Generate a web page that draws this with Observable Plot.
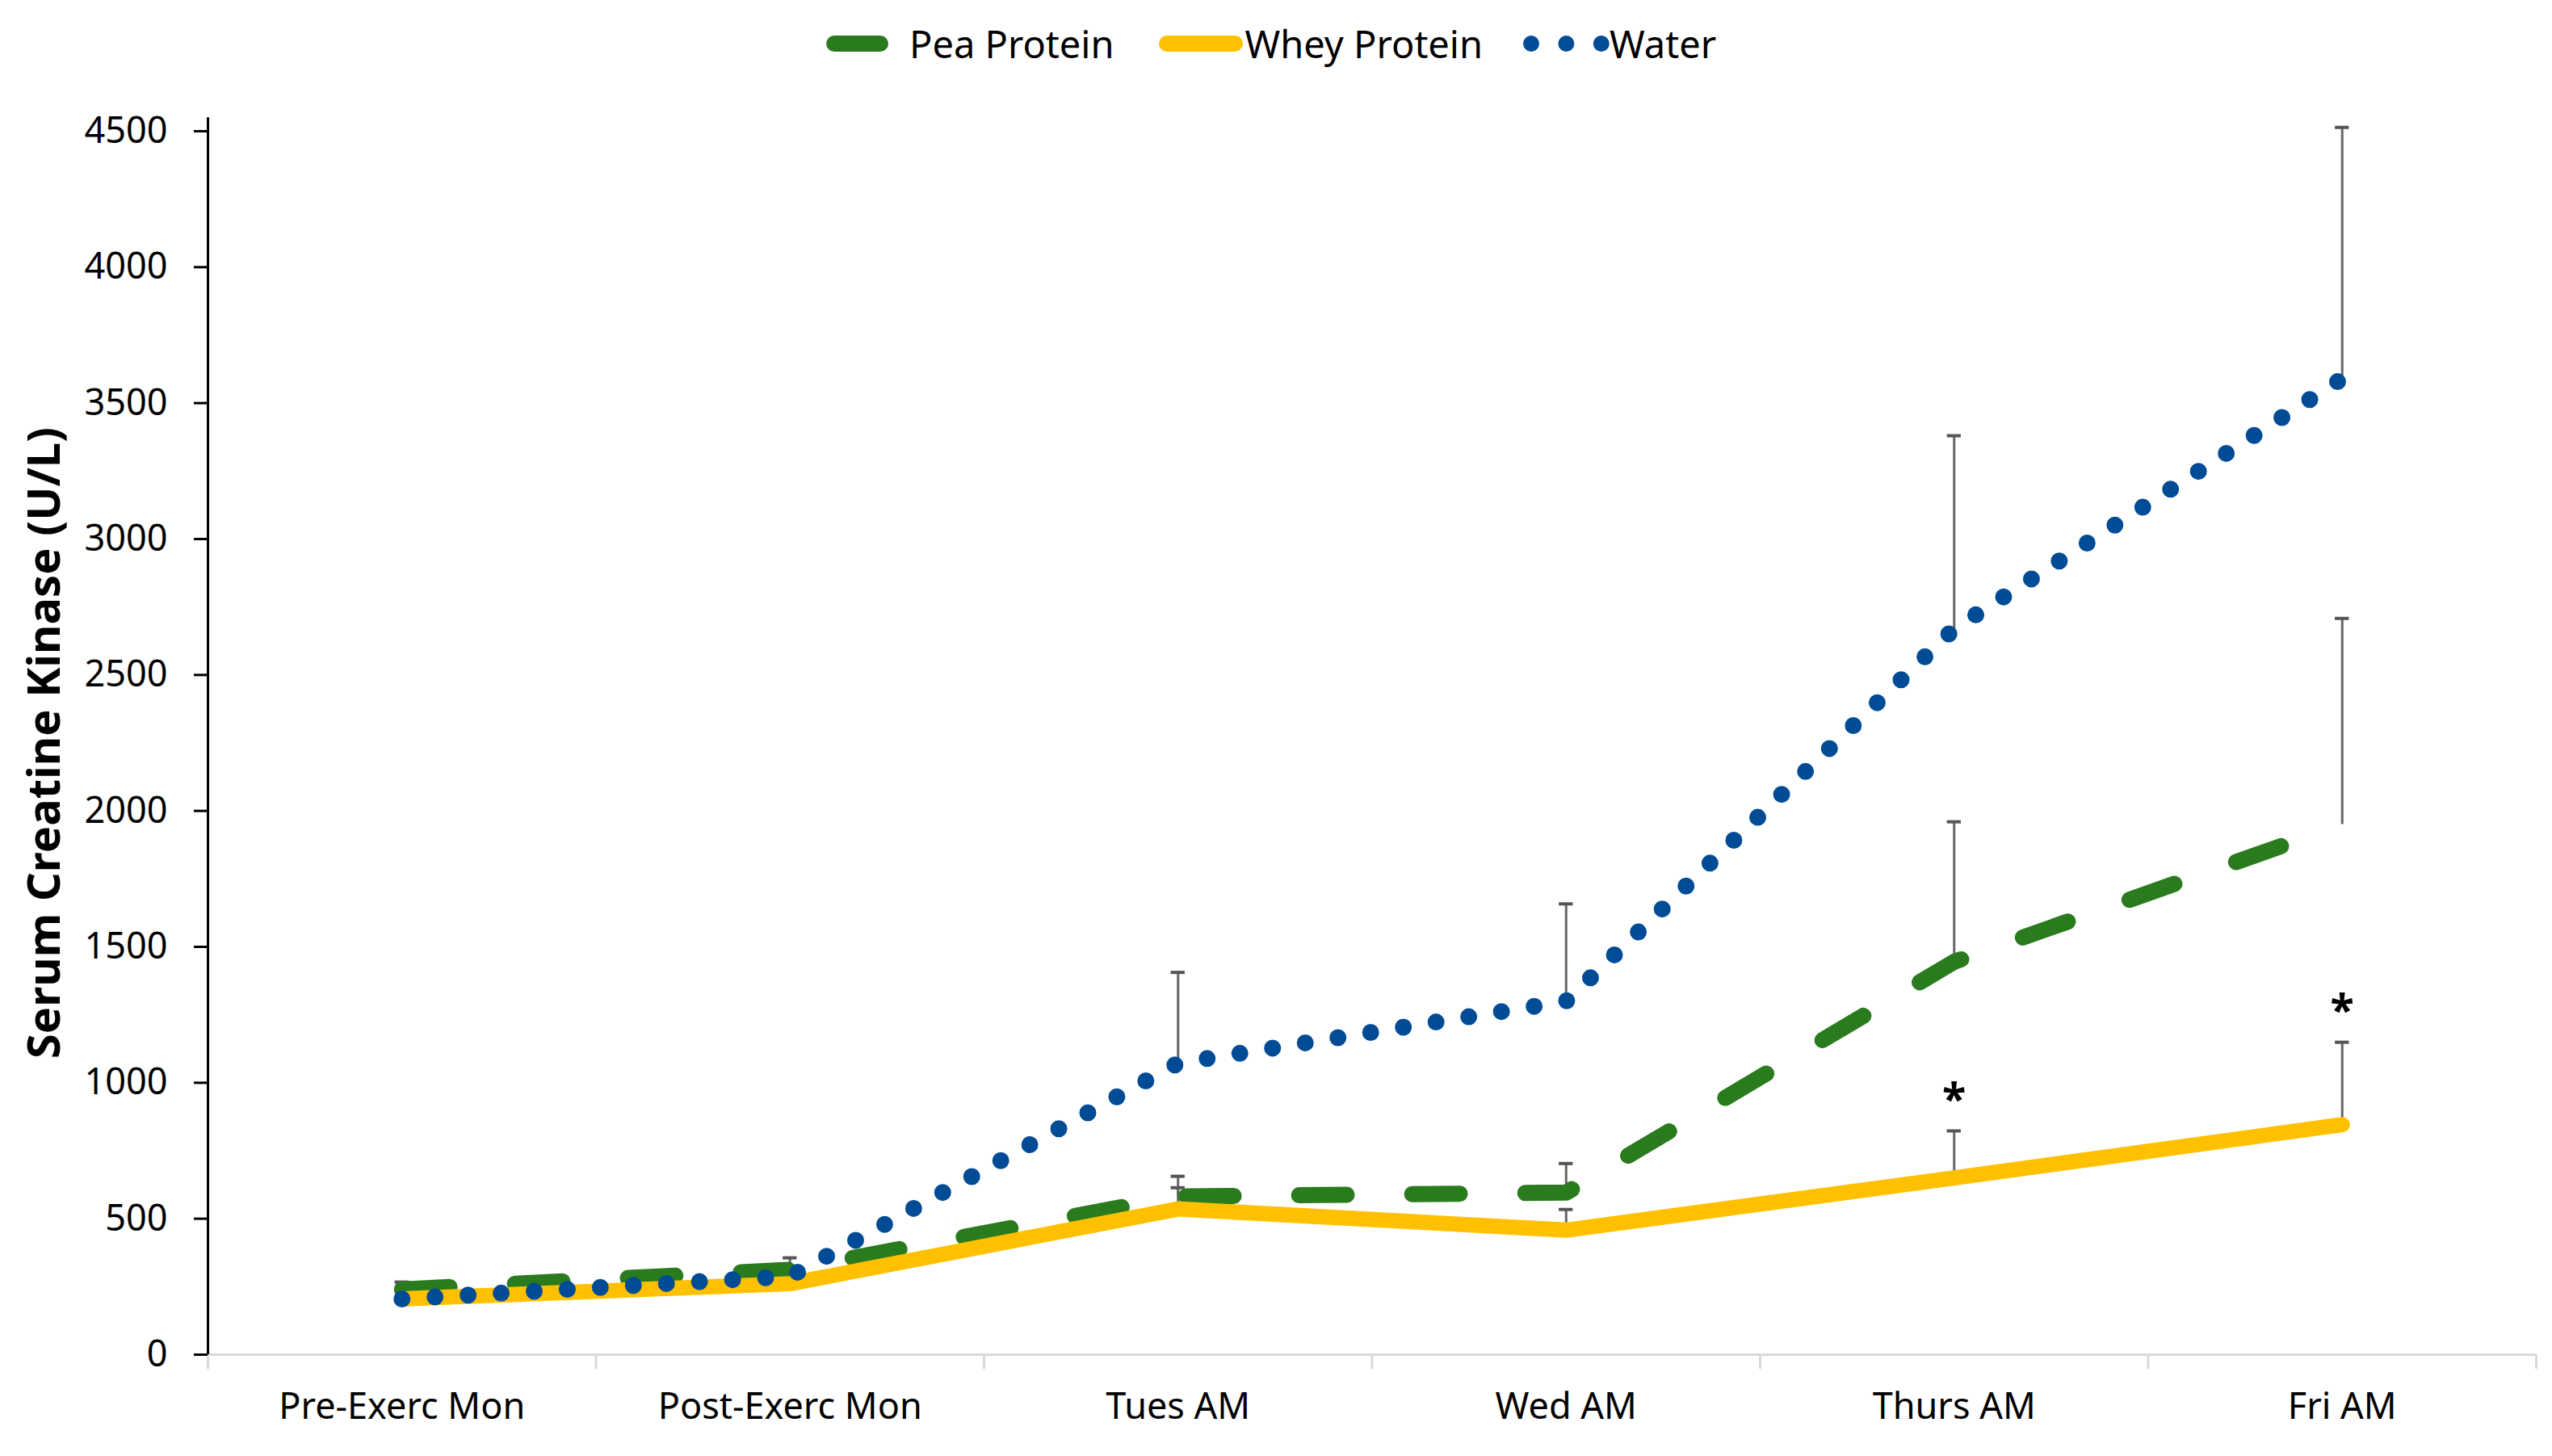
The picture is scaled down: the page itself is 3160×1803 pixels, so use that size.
<!DOCTYPE html>
<html>
<head>
<meta charset="utf-8">
<script src="https://cdn.jsdelivr.net/npm/d3@7"></script>
<script src="https://cdn.jsdelivr.net/npm/@observablehq/plot@0.6"></script>
<style>
  html, body { margin: 0; padding: 0; background: #ffffff; }
  body { width: 3160px; height: 1803px; overflow: hidden; font-family: "Noto Sans", sans-serif; }
  #legend { height: 108px; display: flex; align-items: center; justify-content: flex-start; padding-left: 1013px; font-size: 47px; color: #000; }
  #legend .item { display: flex; align-items: center; }
  #legend svg { display: block; }
</style>
</head>
<body>
<div id="legend"></div>
<div id="chart"></div>
<script>
// ---- data ----
const categories = ["Pre-Exerc Mon", "Post-Exerc Mon", "Tues AM", "Wed AM", "Thurs AM", "Fri AM"];
const peaMean   = [240, 312, 582, 596, 1445, 1950];
const peaUpper  = [267, 356, 656, 703, 1960, 2708];
const wheyMean  = [205, 261, 536, 458, 650, 846];
const wheyUpper = [null, null, 614, 534, 823, 1149];
const waterMean = [205, 288, 1072, 1300, 2670, 3590];
const waterUpper= [null, null, 1406, 1658, 3380, 4514];
const significant = ["Thurs AM", "Fri AM"]; // asterisks above Whey
const yTicks = [0, 500, 1000, 1500, 2000, 2500, 3000, 3500, 4000, 4500];
const yAxisTop = 4550;
const seriesNames = ["Pea Protein", "Whey Protein", "Water"];
const yTitle = "Serum Creatine Kinase (U/L)";

// ---- styles ----
const colors = {"Pea Protein": "#2a7b1e", "Whey Protein": "#ffc000", "Water": "#004b96"};

// ---- tables built from arrays ----
const rows = categories.map((c, i) => ({
  i, c,
  pea: peaMean[i], peaU: peaUpper[i],
  whey: wheyMean[i], wheyU: wheyUpper[i],
  water: waterMean[i], waterU: waterUpper[i]
}));
const errs = [];
for (const r of rows) {
  if (r.peaU != null) errs.push({i: r.i, lo: r.pea, hi: r.peaU});
  if (r.wheyU != null) errs.push({i: r.i, lo: r.whey, hi: r.wheyU});
  if (r.waterU != null) errs.push({i: r.i, lo: r.water, hi: r.waterU});
}
const stars = rows.filter(r => significant.includes(r.c));
const idx = categories.map((c, i) => i);
const bounds = d3.range(categories.length + 1).map(k => k - 0.5);
const capHalf = 0.018;

const chart = Plot.plot({
  width: 3160,
  height: 1695,
  marginLeft: 257,
  marginRight: 20,
  marginTop: 54,
  marginBottom: 126,
  style: {fontFamily: "Noto Sans", background: "#ffffff", color: "#000", overflow: "visible"},
  x: {domain: [-0.5, categories.length - 0.5]},
  y: {domain: [0, 4500]},
  marks: [
    // x axis baseline and band-boundary ticks
    Plot.ruleY([0], {stroke: "#d9d9d9", strokeWidth: 3}),
    Plot.axisX({ticks: bounds, tickSize: 18, tickFormat: () => "", stroke: "#d9d9d9", strokeWidth: 3, label: null}),
    Plot.axisX({ticks: idx, tickSize: 0, tickPadding: 48, tickFormat: i => categories[i], fontSize: 45, fill: "#000", label: null}),
    // y axis
    Plot.ruleX([-0.5], {y1: 0, y2: yAxisTop, stroke: "#000", strokeWidth: 3, clip: false}),
    Plot.axisY({ticks: yTicks, tickSize: 17, tickPadding: 33, tickFormat: d => String(d), fontSize: 45, stroke: "#000", strokeWidth: 3, fill: "#000", label: null}),
    Plot.text([yTitle], {frameAnchor: "left", dx: -201, rotate: -90, textAnchor: "middle", text: d => d, fontSize: 56, fontWeight: "bold", fill: "#000"}),
    // error bars
    Plot.ruleX(errs, {x: "i", y1: "lo", y2: "hi", stroke: "#666666", strokeWidth: 3}),
    Plot.ruleY(errs, {y: "hi", x1: d => d.i - capHalf, x2: d => d.i + capHalf, stroke: "#555555", strokeWidth: 4}),
    // lines
    Plot.line(rows, {x: "i", y: "pea", stroke: colors["Pea Protein"], strokeWidth: 20, strokeDasharray: "59,81", strokeLinecap: "round", strokeLinejoin: "round"}),
    Plot.line(rows, {x: "i", y: "whey", stroke: colors["Whey Protein"], strokeWidth: 19, strokeLinecap: "round", strokeLinejoin: "round"}),
    Plot.line(rows, {x: "i", y: "water", stroke: colors["Water"], strokeWidth: 21, strokeDasharray: "0,41", strokeLinecap: "round", strokeLinejoin: "round"}),
    // significance asterisks
    Plot.text(stars, {x: "i", y: "wheyU", text: () => "*", dy: -38, fontSize: 54, fontWeight: "bold", fill: "#000"})
  ]
});
document.getElementById("chart").appendChild(chart);

// ---- legend ----
const legend = d3.select("#legend");
const swatches = {
  "Pea Protein": {w: 113, draw: g => g.append("line").attr("x1", 20).attr("x2", 77).attr("y1", 22).attr("y2", 22)
      .attr("stroke", colors["Pea Protein"]).attr("stroke-width", 20).attr("stroke-linecap", "round")},
  "Whey Protein": {w: 162, draw: g => g.append("line").attr("x1", 65).attr("x2", 149).attr("y1", 22).attr("y2", 22)
      .attr("stroke", colors["Whey Protein"]).attr("stroke-width", 20).attr("stroke-linecap", "round")},
  "Water": {w: 157, draw: g => {
      g.append("line").attr("x1", 60).attr("x2", 147).attr("y1", 22).attr("y2", 22)
        .attr("stroke", colors["Water"]).attr("stroke-width", 20).attr("stroke-dasharray", "0,43.4").attr("stroke-linecap", "round");
    }}
};
seriesNames.forEach(name => {
  const it = legend.append("div").attr("class", "item");
  const s = swatches[name];
  const svg = it.append("svg").attr("width", s.w).attr("height", 44);
  s.draw(svg);
  it.append("span").text(name);
});
</script>
</body>
</html>
